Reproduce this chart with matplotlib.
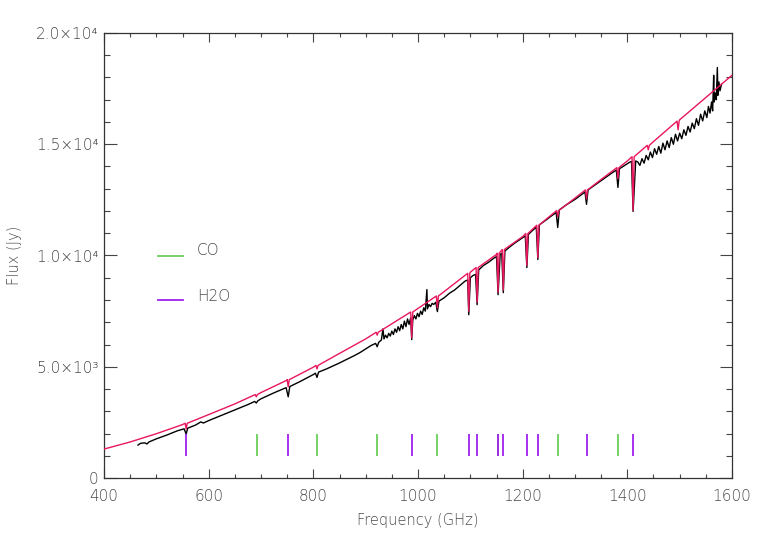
import numpy as np
import matplotlib
matplotlib.use('Agg')
import matplotlib.pyplot as plt

# model continuum (GHz, Jy)
model_cont_freq = [400, 450, 500, 550, 600, 650, 700, 750, 800, 850, 900, 950, 1000,
                   1050, 1100, 1150, 1200, 1250, 1300, 1350, 1400, 1450, 1500, 1550, 1600]
model_cont_flux = [1300, 1620, 1990, 2400, 2850, 3330, 3840, 4400, 4980, 5600, 6250, 6930, 7620,
                   8380, 9250, 10050, 10850, 11730, 12580, 13420, 14250, 15120, 16100, 17100, 18100]

# absorption dips in the model: centre, local top, bottom
model_line_freq = [557, 691, 752, 807, 922, 988, 1037, 1097, 1113, 1153, 1163, 1208, 1229,
                   1267, 1322, 1382, 1411, 1440, 1497]
model_line_top = [2460, 3750, 4420, 5060, 6550, 7460, 8180, 9200, 9460, 10100, 10270, 10990, 11360,
                  12020, 12950, 13950, 14440, 14950, 16040]
model_line_bottom = [2200, 3650, 4100, 4900, 6420, 6300, 7650, 7500, 7900, 8350, 8450, 9550, 9900,
                     11750, 12550, 13450, 12030, 14750, 15650]

obs_freq = [465, 470, 478, 482, 486, 500, 520, 540, 553, 557, 560, 575, 585, 590, 600,
            625, 650, 675, 688, 691, 694, 700, 725, 748, 752, 755, 775, 800, 804, 807, 810,
            825, 850, 870, 880, 890, 900, 910, 919, 922, 925, 930, 933, 935, 938, 941, 944,
            947, 950, 953, 956, 959, 962, 965, 968, 971, 974, 977, 980, 983, 986, 988, 990,
            993, 996, 999, 1002, 1005, 1008, 1011, 1014, 1017, 1018, 1021, 1024, 1027, 1030,
            1034, 1037, 1040, 1050, 1060, 1070, 1080, 1090, 1095, 1097, 1100, 1105, 1110, 1113,
            1116, 1125, 1135, 1145, 1150, 1153, 1157, 1160, 1163, 1166, 1175, 1185, 1195, 1205,
            1208, 1211, 1220, 1226, 1229, 1232, 1245, 1255, 1264, 1267, 1270, 1285, 1300, 1315,
            1319, 1322, 1325, 1340, 1355, 1370, 1379, 1382, 1385, 1395, 1405, 1408, 1411, 1416,
            1420, 1424, 1428, 1432, 1436, 1440, 1444, 1448, 1452, 1456, 1460, 1464, 1468, 1472,
            1476, 1480, 1484, 1488, 1492, 1496, 1500, 1504, 1508, 1512, 1516, 1520, 1524, 1528,
            1532, 1536, 1540, 1544, 1548, 1552, 1555, 1558, 1561, 1563, 1565, 1566, 1568, 1570,
            1572, 1573, 1575, 1577, 1580]
obs_flux = [1480, 1560, 1580, 1530, 1620, 1760, 1930, 2120, 2210, 1980, 2240, 2380, 2520, 2470, 2580,
            2820, 3060, 3300, 3440, 3370, 3470, 3560, 3830, 4060, 3650, 4110, 4340, 4650, 4710, 4520, 4760,
            4900, 5170, 5400, 5520, 5650, 5800, 5950, 6050, 5900, 6100, 6200, 6700, 6250, 6420, 6300, 6500,
            6380, 6600, 6450, 6700, 6550, 6800, 6620, 6900, 6700, 7050, 6800, 7150, 6900, 7200, 6220, 7100,
            7300, 7150, 7400, 7250, 7500, 7350, 7650, 7500, 8470, 7600, 7800, 7700, 7850, 7800,
            7900, 7480, 7950, 8100, 8300, 8450, 8650, 8850, 8900, 7340, 9000, 9100, 9150, 7790,
            9350, 9550, 9700, 9880, 9950, 8240, 10050, 10100, 8330, 10200, 10380, 10560, 10720, 10880,
            9460, 10950, 11150, 11270, 9820, 11380, 11600, 11780, 11930, 11260, 12050, 12300, 12520, 12780,
            12860, 12300, 12950, 13200, 13450, 13700, 13840, 13060, 13900, 14050, 14200, 14230, 11980, 14250,
            14200, 14050, 14350, 14150, 14500, 14300, 14650, 14400, 14800, 14550, 14900, 14600, 15050, 14750,
            15150, 14850, 15300, 15000, 15450, 15150, 15500, 15250, 15650, 15400, 15800, 15550, 15950, 15700,
            16150, 15850, 16350, 16050, 16500, 16200, 16700, 16400, 16900, 16500, 18100, 16900, 17300, 17000,
            18450, 17200, 17800, 17400, 17700]

co_freq = [691.5, 806.7, 921.8, 1036.9, 1152.0, 1267.0, 1382.0]
h2o_freq = [556.9, 752.0, 987.9, 1097.4, 1113.3, 1153.1, 1162.9, 1207.6, 1228.8, 1322.0, 1410.6]

x_ticks = [400, 600, 800, 1000, 1200, 1400, 1600]
y_ticks = [0, 5000, 10000, 15000, 20000]
y_tick_labels = ['0', '5.0\u00d710\u00b3', '1.0\u00d710\u2074', '1.5\u00d710\u2074', '2.0\u00d710\u2074']

RED = '#e8175d'
GREEN = '#6ccf5a'
PURPLE = '#a020f0'
GREY = '#4a4a4a'

plt.rcParams['font.family'] = ['DejaVu Sans']
plt.rcParams['font.weight'] = 'light'
plt.rcParams['axes.labelweight'] = 'light'
plt.rcParams['font.size'] = 11

# build the model curve from continuum + dips
m_pts = list(zip(model_cont_freq, model_cont_flux))
for f, t, b in zip(model_line_freq, model_line_top, model_line_bottom):
	m_pts += [(f - 2.0, t), (f, b), (f + 2.0, t)]
m_pts.sort()
model_freq = np.array([p[0] for p in m_pts])
model_flux = np.array([p[1] for p in m_pts])

fig = plt.figure(figsize=(7.63, 5.45), dpi=100)
ax = fig.add_axes([104/763, 1-478/545, 628/763, 445/545])

ax.plot(obs_freq, obs_flux, color='black', lw=1.0, zorder=2)
ax.plot(model_freq, model_flux, color=RED, lw=1.0, zorder=3)

ax.vlines(co_freq, 1000, 2000, color=GREEN, lw=1.3, zorder=4)
ax.vlines(h2o_freq, 1000, 2000, color=PURPLE, lw=1.3, zorder=5)

# hand-drawn legend as in the original
ax.plot([0.086, 0.126], [0.5, 0.5], color=GREEN, lw=1.3, transform=ax.transAxes)
ax.plot([0.086, 0.126], [0.40, 0.40], color=PURPLE, lw=1.3, transform=ax.transAxes)
ax.text(0.148, 0.511, 'CO', color=GREY, transform=ax.transAxes, va='center', ha='left')
ax.text(0.148, 0.408, 'H2O', color=GREY, transform=ax.transAxes, va='center', ha='left')

ax.set_xlim(400, 1600)
ax.set_ylim(0, 20000)
ax.set_xticks(x_ticks)
ax.set_xticks(np.arange(400, 1601, 50), minor=True)
ax.set_yticks(y_ticks, y_tick_labels)
ax.set_yticks(np.arange(0, 20001, 1000), minor=True)

ax.tick_params(axis='both', which='both', direction='in', top=True, right=True,
               colors='#444444', labelcolor=GREY, width=0.8)
ax.tick_params(axis='x', which='major', length=6.5, pad=8)
ax.tick_params(axis='x', which='minor', length=3.2)
ax.tick_params(axis='y', which='major', length=9, pad=4)
ax.tick_params(axis='y', which='minor', length=4.5)
for s in ax.spines.values():
	s.set_color('#333333')
	s.set_linewidth(0.9)

ax.set_xlabel('Frequency (GHz)', color=GREY, fontsize=10.5, fontweight='light')
ax.set_ylabel('Flux (Jy)', color=GREY, fontsize=10.5, fontweight='light')
ax.xaxis.label.set_va('center')
ax.yaxis.label.set_va('center')
ax.xaxis.set_label_coords(0.5, -0.0966)
ax.yaxis.set_label_coords(-0.1433, 0.5)

fig.savefig('out.png', dpi=100)
